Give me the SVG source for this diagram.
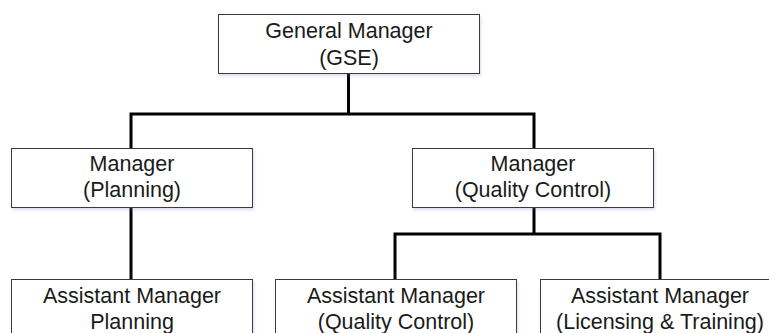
<svg xmlns="http://www.w3.org/2000/svg" width="769" height="333" viewBox="0 0 769 333">
  <defs>
    <filter id="shadow" x="-10%" y="-10%" width="120%" height="140%">
      <feDropShadow dx="1" dy="2" stdDeviation="1.5" flood-color="#5b7bb0" flood-opacity="0.25"/>
    </filter>
  </defs>
  <style>
    .box { fill: #ffffff; stroke: #3a3a3a; stroke-width: 1; filter: url(#shadow); }
    .label { font-family: "Liberation Sans", Arial, sans-serif; font-size: 21.5px; fill: #1a1a1a; text-anchor: middle; }
    .link { fill: none; stroke: #000000; stroke-width: 3; }
  </style>
  <rect width="769" height="333" fill="#ffffff"/>

  <!-- connectors -->
  <g id="connectors">
    <path class="link" d="M348.5 73 V114"/>
    <path class="link" d="M131 148 V114 H534 V148"/>
    <path class="link" d="M131 207 V279"/>
    <path class="link" d="M534 207 V234"/>
    <path class="link" d="M395 279 V234 H660 V279"/>
  </g>

  <g id="general-manager">
    <rect class="box" x="218.5" y="14.5" width="261" height="59"/>
    <text class="label" x="349" y="38">General Manager</text>
    <text class="label" x="349" y="65">(GSE)</text>
  </g>

  <g id="manager-planning">
    <rect class="box" x="11.5" y="148.5" width="241" height="59"/>
    <text class="label" x="132" y="171">Manager</text>
    <text class="label" x="132" y="197">(Planning)</text>
  </g>

  <g id="manager-quality-control">
    <rect class="box" x="412.5" y="148.5" width="241" height="59"/>
    <text class="label" x="533" y="171">Manager</text>
    <text class="label" x="533" y="197">(Quality Control)</text>
  </g>

  <g id="assistant-manager-planning">
    <rect class="box" x="11.5" y="279.5" width="241" height="70"/>
    <text class="label" x="132" y="303">Assistant Manager</text>
    <text class="label" x="132" y="329">Planning</text>
  </g>

  <g id="assistant-manager-quality-control">
    <rect class="box" x="275.5" y="279.5" width="241" height="70"/>
    <text class="label" x="396" y="303">Assistant Manager</text>
    <text class="label" x="396" y="329">(Quality Control)</text>
  </g>

  <g id="assistant-manager-licensing-training">
    <rect class="box" x="540.5" y="279.5" width="241" height="70"/>
    <text class="label" x="660" y="303">Assistant Manager</text>
    <text class="label" x="660" y="329">(Licensing &amp; Training)</text>
  </g>
</svg>
